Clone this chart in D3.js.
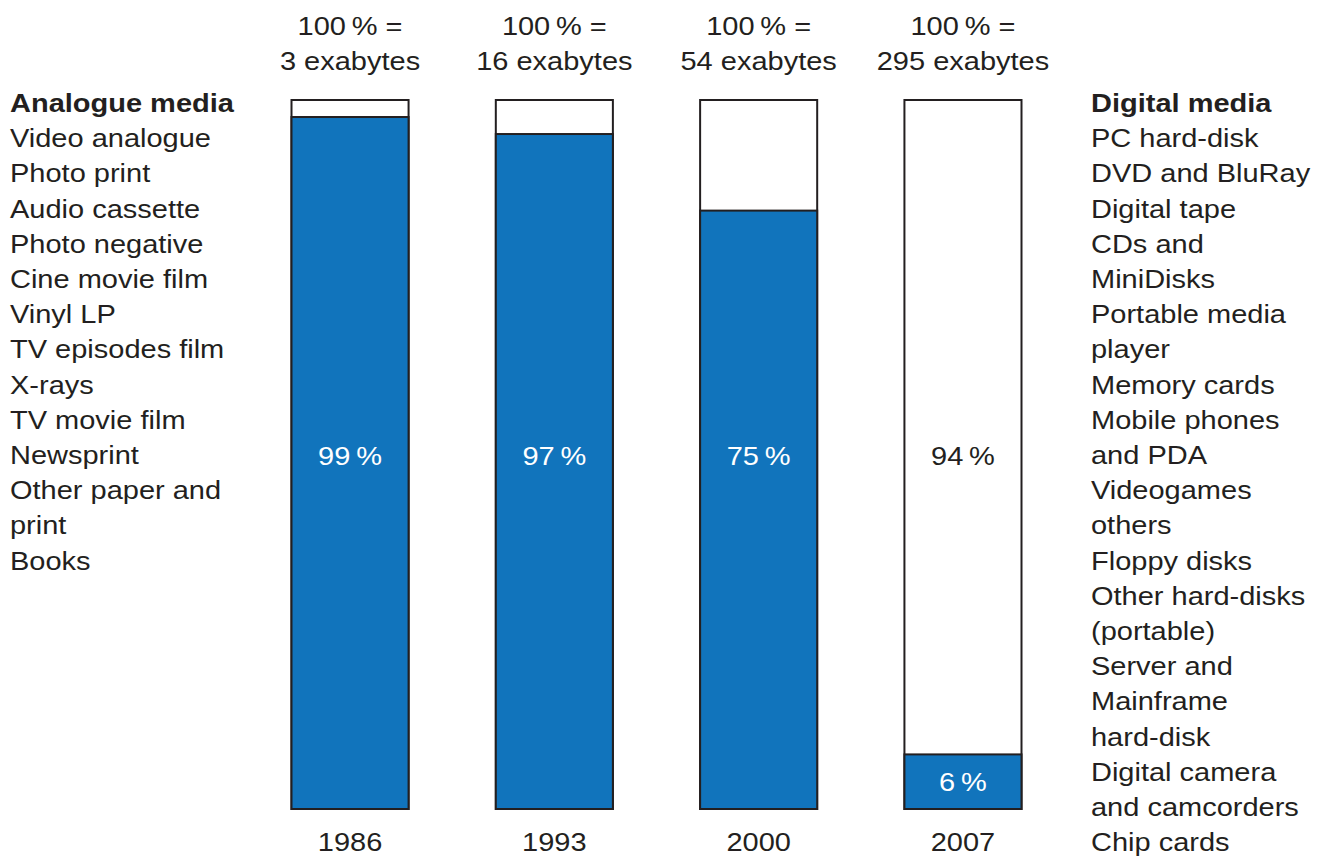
<!DOCTYPE html>
<html><head><meta charset="utf-8">
<script src="https://cdn.jsdelivr.net/npm/d3@7"></script>
<style>body{margin:0;background:#fff}svg{display:block}text{font-family:"Liberation Sans",Arial,sans-serif;}</style>
</head><body><svg id="c" width="1325" height="857"></svg>
<script>
const years = ["1986","1993","2000","2007"];
const totalLabels = ["3 exabytes","16 exabytes","54 exabytes","295 exabytes"];
// analogue share as drawn in the picture (height of the blue segment, % of bar)
const analogueDrawn = [97.6, 95.2, 84.4, 7.7];
// printed percentage labels
const percentLabels = ["99\u2009%","97\u2009%","75\u2009%","94\u2009%"];
const labelOnBlue = [true, true, true, false];
const bottomLabel2007 = "6\u2009%";
const analogueItems = ["Video analogue","Photo print","Audio cassette","Photo negative","Cine movie film","Vinyl LP","TV episodes film","X-rays","TV movie film","Newsprint","Other paper and","print","Books"];
const digitalItems = ["PC hard-disk","DVD and BluRay","Digital tape","CDs and","MiniDisks","Portable media","player","Memory cards","Mobile phones","and PDA","Videogames","others","Floppy disks","Other hard-disks","(portable)","Server and","Mainframe","hard-disk","Digital camera","and camcorders","Chip cards"];

const BLUE = "#1174bc", INK = "#231f20";
const svg = d3.select("#c");
const x = d3.scaleBand().domain(years).range([291.5, 1021.5]).paddingInner(0.427).paddingOuter(0);
const y = d3.scaleLinear().domain([0,100]).range([809,100]);
const fs = 25, SX = 1.16;

function txt(parent, px, py, str, o){
  o = o || {};
  return parent.append("text").attr("transform",`translate(${px},${py}) scale(${SX},1)`)
    .attr("text-anchor", o.anchor || "start").attr("font-size", fs)
    .attr("font-weight", o.bold ? "bold" : "normal").attr("fill", o.fill || INK).text(str);
}

const g = svg.append("g");
const bars = g.selectAll("g.bar").data(years).join("g").attr("class","bar");
bars.append("rect").attr("x", d=>x(d)).attr("y", y(100)).attr("width", x.bandwidth()).attr("height", y(0)-y(100))
  .attr("fill","#fff").attr("stroke",INK).attr("stroke-width",2);
bars.append("rect").attr("x", d=>x(d)).attr("y", (d,i)=>y(analogueDrawn[i])).attr("width", x.bandwidth())
  .attr("height",(d,i)=>y(0)-y(analogueDrawn[i])).attr("fill",BLUE).attr("stroke",INK).attr("stroke-width",2);

years.forEach((d,i)=>{
  const cx = x(d)+x.bandwidth()/2;
  txt(g, cx, 465, percentLabels[i], {anchor:"middle", fill: labelOnBlue[i] ? "#fff" : INK});
  txt(g, cx, 35, "100\u2009% =", {anchor:"middle"});
  txt(g, cx, 70, totalLabels[i], {anchor:"middle"});
});
txt(g, x("2007")+x.bandwidth()/2, (y(analogueDrawn[3])+y(0))/2+9, bottomLabel2007, {anchor:"middle", fill:"#fff"});

// year axis
const ax = svg.append("g").attr("transform","translate(0,851)").call(d3.axisBottom(x).tickSize(0).tickPadding(0));
ax.select(".domain").remove();
ax.selectAll("text").attr("font-size",fs).attr("fill",INK).attr("dy","0").attr("y",0)
  .attr("transform",`scale(${SX},1)`)
  .style("font-family",'"Liberation Sans",Arial,sans-serif');

// side lists
const lh = 35.2, base0 = 112;
function list(xp, title, items){
  const t = svg.append("g");
  txt(t, xp, base0, title, {bold:true});
  items.forEach((d,i)=>txt(t, xp, base0+(i+1)*lh, d));
}
list(10,"Analogue media",analogueItems);
list(1091,"Digital media",digitalItems);
</script></body></html>
